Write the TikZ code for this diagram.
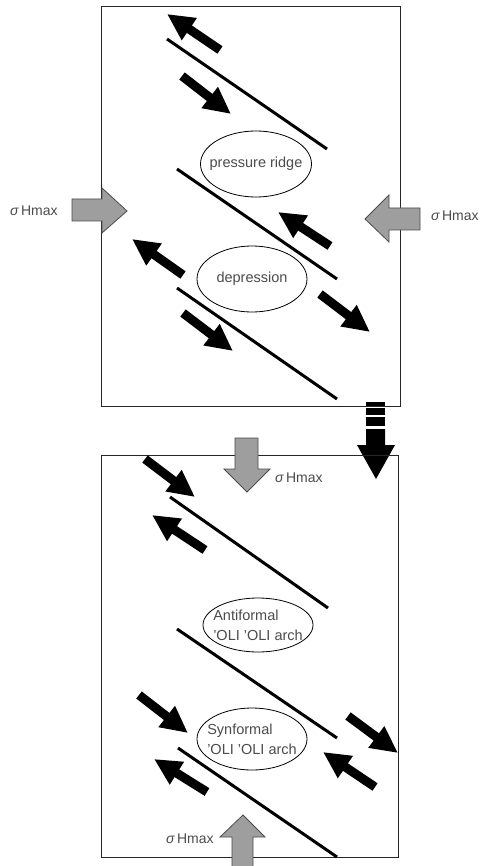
\documentclass[tikz,border=0pt]{standalone}
\usepackage{fontspec}
\setmainfont{Liberation Sans}
\usetikzlibrary{arrows.meta,shapes.geometric}
\begin{document}
\begin{tikzpicture}[x=1pt,y=-1pt,
  frame/.style={draw=black!85,line width=0.9pt},
  fault/.style={line width=3pt,black},
  slip/.style={line width=9pt,black,-{Triangle[width=25pt,length=27pt]}},
  push/.style={fill=black!38,draw=black!70,line width=0.8pt,line join=miter},
  feature/.style={ellipse,draw,line width=0.8pt,inner sep=0pt},
  tag/.style={inner sep=0pt,text=black!70,align=left,
    font=\fontsize{14.5}{20}\selectfont},
  stress/.style={anchor=west,inner sep=0pt,text=black!70,
    font=\fontsize{14}{16}\selectfont}]
\useasboundingbox (0,0) rectangle (481,866);
\fill[white] (0,0) rectangle (481,866);

% ---------- upper panel: pull-apart setting ----------
\draw[frame] (101,6) rectangle (400,406);

\draw[fault] (167,39) -- (327,149);
\draw[fault] (177,169) -- (337,279);
\draw[fault] (177,288) -- (337,399);

\draw[slip] (220,50) -- (167,14);
\draw[slip] (182,76) -- (231,114);
\draw[slip] (330,246) -- (278,212);
\draw[slip] (183,275) -- (132,239);
\draw[slip] (320,294) -- (370,332);
\draw[slip] (183,313) -- (233,351);

\node[feature,minimum width=111pt,minimum height=66pt] (ridge) at (256,164) {};
\node[tag] at (ridge.center) {pressure ridge};
\node[feature,minimum width=110pt,minimum height=66pt] (depr) at (252,279) {};
\node[tag] at (depr.center) {depression};

% horizontal compression
\draw[push] (72,199) -- (102,199) -- (102,188) -- (127,211) -- (102,233) -- (102,221) -- (72,221) -- cycle;
\draw[push] (420,208) -- (389,208) -- (389,195) -- (365,219) -- (389,242) -- (389,230) -- (420,230) -- cycle;
\node[stress] (s1) at (10,211) {\textit{σ}\hspace{2pt}Hmax};
\node[stress] (s2) at (431,216) {\textit{σ}\hspace{2pt}Hmax};

% transition arrow
\fill[black] (366,402) rectangle (385,406);
\fill[black] (366,408) rectangle (385,415);
\fill[black] (366,417) rectangle (385,426);
\fill[black] (366,429) -- (385,429) -- (385,445) -- (395,445) -- (376,479) -- (357,445) -- (366,445) -- cycle;

% ---------- lower panel: rotated compression ----------
\draw[frame] (101,455) rectangle (398,857);

\draw[fault] (170,497) -- (328,608);
\draw[fault] (177,629) -- (337,738);
\draw[fault] (178,748) -- (337,857);

\draw[slip] (145,459) -- (195,497);
\draw[slip] (205,550) -- (152,515);
\draw[slip] (139,695) -- (188,733);
\draw[slip] (207,792) -- (154,759);
\draw[slip] (348,716) -- (398,753);
\draw[slip] (375,787) -- (323,752);

\node[feature,minimum width=110pt,minimum height=54pt] (anti) at (258,625) {};
\node[tag] at (anti.center) {Antiformal\\'OLI 'OLI arch};
\node[feature,minimum width=110pt,minimum height=62pt] (syn) at (252,739) {};
\node[tag] at (syn.center) {Synformal\\'OLI 'OLI arch};

% vertical compression
\draw[push] (235,438) -- (258,438) -- (258,469) -- (270,469) -- (247,492) -- (224,469) -- (235,469) -- cycle;
\draw[push] (232,870) -- (232,837) -- (220,837) -- (243,815) -- (265,837) -- (253,837) -- (253,870) -- cycle;
\node[stress] (s3) at (275,478) {\textit{σ}\hspace{2pt}Hmax};
\node[stress] (s4) at (166,839) {\textit{σ}\hspace{2pt}Hmax};
\end{tikzpicture}
\end{document}
